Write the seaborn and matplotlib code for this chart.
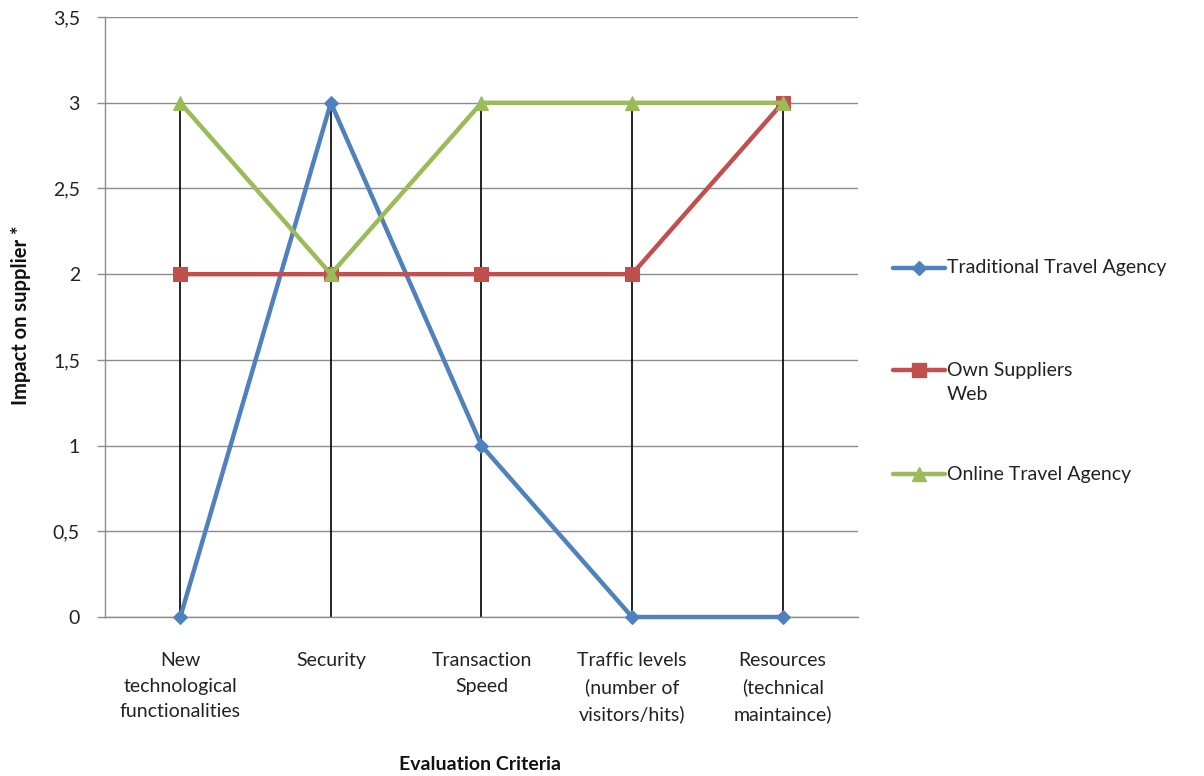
import matplotlib
matplotlib.use("Agg")
import matplotlib.pyplot as plt
from matplotlib.lines import Line2D
import seaborn as sns
import numpy as np
import pandas as pd

criteria = [
    "New\ntechnological\nfunctionalities",
    "Security",
    "Transaction\nSpeed",
    "Traffic levels\n(number of\nvisitors/hits)",
    "Resources\n(technical\nmaintaince)",
]
traditional = [0, 3, 1, 0, 0]
own_web = [2, 2, 2, 2, 3]
online = [3, 2, 3, 3, 3]

series_names = ["Traditional Travel Agency", "Own Suppliers\nWeb", "Online Travel Agency"]
series_values = [traditional, own_web, online]
colors = ["#4F81BD", "#C0504D", "#9BBB59"]
markers = ["D", "s", "^"]
marker_sizes = [7, 10, 10]

y_ticks = [0, 0.5, 1, 1.5, 2, 2.5, 3, 3.5]
y_tick_labels = ["0", "0,5", "1", "1,5", "2", "2,5", "3", "3,5"]

FS = 14

sns.set_style("white")
plt.rcParams["font.family"] = ["Lato", "DejaVu Sans"]

fig = plt.figure(figsize=(12.04, 7.76), dpi=100)
ax = fig.add_axes([0.0872, 0.2049, 0.6254, 0.7731])

pos = np.arange(len(criteria))

# drop lines from the axis up to the highest value in each category
tops = np.max(np.array(series_values), axis=0)
ax.vlines(pos, 0, tops, color="black", linewidth=1.2, zorder=2)

for name, vals, c, m, ms in zip(series_names, series_values, colors, markers, marker_sizes):
    df = pd.DataFrame({"pos": pos, "val": vals})
    sns.lineplot(data=df, x="pos", y="val", ax=ax, color=c, linewidth=3.2,
                 marker=m, markersize=ms, markeredgecolor=c, zorder=3, clip_on=False)

ax.set_xlim(-0.5, len(criteria) - 0.5)
ax.set_ylim(0, 3.5)
ax.set_yticks(y_ticks)
ax.set_yticklabels(y_tick_labels, fontsize=FS, color="#222222")
ax.set_xticks(pos)
ax.set_xticklabels(criteria, fontsize=FS, color="#222222", linespacing=1.6)
ax.yaxis.grid(True, color="#8C8C8C", linewidth=1.0)
ax.set_axisbelow(True)

for side in ["top", "right"]:
    ax.spines[side].set_visible(False)
for side in ["left", "bottom"]:
    ax.spines[side].set_color("#8C8C8C")
    ax.spines[side].set_linewidth(1.0)

ax.tick_params(axis="y", which="both", left=True, length=6, width=1.0, color="#8C8C8C", pad=12)
ax.tick_params(axis="x", bottom=False, pad=22)

ax.set_xlabel("Evaluation Criteria", fontsize=FS, fontweight="bold", color="#111111")
ax.set_ylabel("Impact on supplier *", fontsize=14.5, fontweight="bold", color="#111111")
ax.xaxis.set_label_coords(0.498, -0.232)
ax.yaxis.set_label_coords(-0.098, 0.503)

# legend placed to the right of the plot area
legend_rows = [268, 370, 474]
for name, c, m, ms, yp in zip(series_names, colors, markers, marker_sizes, legend_rows):
    yf = 1 - yp / 776
    fig.add_artist(Line2D([893 / 1204, 945 / 1204], [yf, yf], transform=fig.transFigure,
                          color=c, linewidth=3.2))
    fig.add_artist(Line2D([919 / 1204], [yf], transform=fig.transFigure, color=c,
                          marker=m, markersize=ms, markeredgecolor=c))
    for i, ln in enumerate(name.split("\n")):
        fig.text(947 / 1204, 1 - (yp + i * 24) / 776, ln, fontsize=FS, color="#222222",
                 va="center", ha="left")

fig.savefig("out.png", dpi=100, facecolor="white")
